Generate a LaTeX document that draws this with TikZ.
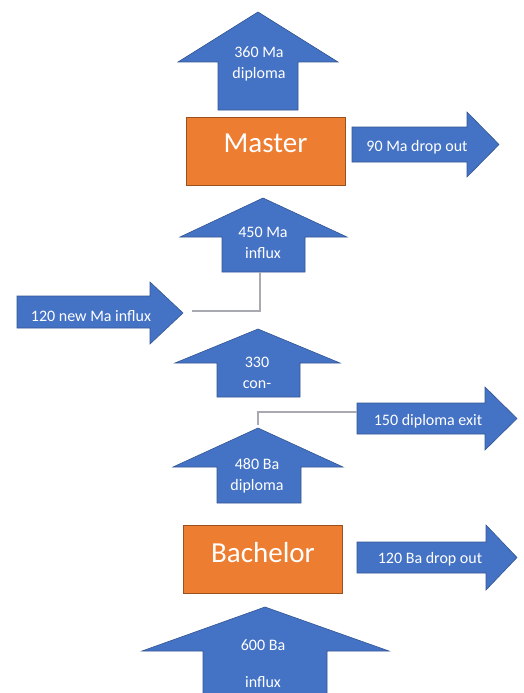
\documentclass[tikz,border=0pt]{standalone}
\usepackage{fontspec}
\setmainfont{Carlito}
\usepackage{tikz}
\usetikzlibrary{positioning}
\usepackage{xcolor}
\definecolor{flowblue}{HTML}{4472C4}
\definecolor{phaseorange}{HTML}{ED7D31}
\definecolor{linkgray}{HTML}{A9A9B2}
\tikzstyle{blockarrow} = [fill=flowblue,
draw=flowblue!75!black,
line width=0.6pt]
\tikzstyle{phase} = [rectangle,
minimum width=159pt,
minimum height=68pt,
inner sep=0pt,
text centered,
text=white,
font=\fontsize{29}{33}\selectfont,
draw=phaseorange!65!black,
line width=0.6pt,
fill=phaseorange]
\tikzstyle{flow} = [text=white,
inner sep=0pt,
align=center,
anchor=base,
font=\fontsize{16}{21}\selectfont]
\tikzstyle{link} = [draw=linkgray, line width=1.4pt]

\begin{document}
\begin{tikzpicture}[x=1pt, y=-1pt]
        \useasboundingbox (0,0) rectangle (524,693);

        \fill [blockarrow] (258,12) -- (338,62) -- (298,62) -- (298,110) -- (218,110) -- (218,62) -- (178,62) -- cycle;
        \fill [blockarrow] (352,127) -- (467,127) -- (467,112) -- (499,144.5) -- (467,177) -- (467,162) -- (352,162) -- cycle;
        \fill [blockarrow] (263,198) -- (347,237) -- (305,237) -- (305,272) -- (222,272) -- (222,237) -- (180,237) -- cycle;
        \fill [blockarrow] (17,296) -- (150,296) -- (150,282) -- (183,313) -- (150,344) -- (150,328) -- (17,328) -- cycle;
        \fill [blockarrow] (258,329) -- (340,363) -- (300,363) -- (300,397) -- (217,397) -- (217,363) -- (175,363) -- cycle;
        \fill [blockarrow] (357,403) -- (485,403) -- (485,387) -- (517,418.5) -- (485,450) -- (485,434) -- (357,434) -- cycle;
        \fill [blockarrow] (258,428) -- (343,467) -- (301,467) -- (301,503) -- (217,503) -- (217,467) -- (173,467) -- cycle;
        \fill [blockarrow] (357,542) -- (486,542) -- (486,525) -- (517,557.5) -- (486,590) -- (486,573) -- (357,573) -- cycle;
        \fill [blockarrow] (265,607) -- (389,651) -- (327,651) -- (327,697) -- (203,697) -- (203,651) -- (142,651) -- cycle;

        \node (master) [phase, text height=19pt, text depth=17pt] at (265.5,151) {Master};
        \node (bachelor) [phase, text height=20pt, text depth=14pt] at (263,559) {Bachelor};

        \node (madiploma) [flow] at (259,78) {360 Ma\\diploma};
        \node (madrop) [flow] at (417,151) {90 Ma drop out};
        \node (mainflux) [flow] at (263,258) {450 Ma\\influx};
        \node (newma) [flow] at (91,321) {120 new Ma influx};
        \node (cont) [flow] at (257,388) {330\\con-};
        \node (exit) [flow] at (428,425) {150 diploma exit};
        \node (badiploma) [flow] at (257,490) {480 Ba\\diploma};
        \node (badrop) [flow] at (430,563) {120 Ba drop out};
        \node (bainflux) [flow] at (263,687) {600 Ba\\[16pt]influx};

        \coordinate (maend) at (260,272);
        \coordinate (newmaend) at (192,311);
        \coordinate (bafork) at (258,425);
        \coordinate (exitstart) at (357,412);

        \draw [link] (maend) |- (newmaend);
        \draw [link] (bafork) |- (exitstart);
    \end{tikzpicture}
\end{document}
